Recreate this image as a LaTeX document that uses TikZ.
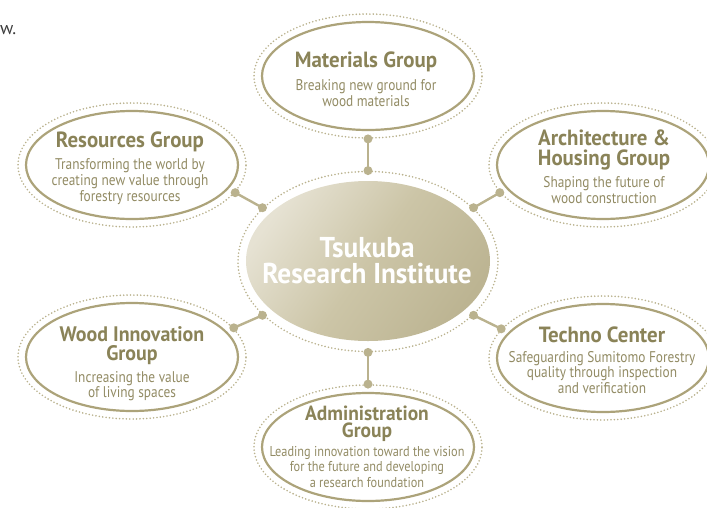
\documentclass[tikz,border=0pt]{standalone}
\usepackage{fontspec}
\setmainfont{PT Sans}
\newfontfamily\cf{PT Sans}[FakeStretch=0.86]
\newfontfamily\tf{PT Sans}[FakeStretch=0.95]
\usetikzlibrary{shapes.geometric}
\definecolor{titlec}{RGB}{138,131,88}
\definecolor{bodyc}{RGB}{146,139,100}
\definecolor{linec}{RGB}{172,163,122}
\definecolor{dotc}{RGB}{186,178,142}
\definecolor{cenlight}{RGB}{230,226,211}
\definecolor{cenmid}{RGB}{204,197,167}
\definecolor{cendark}{RGB}{188,180,146}
\definecolor{wcol}{RGB}{60,60,60}
\tikzset{
  ring/.style={ellipse, draw=dotc, line width=1.8pt, dash pattern=on 0pt off 3.4pt, line cap=round, minimum width=228pt, minimum height=124pt, inner sep=0pt},
  sat/.style={ellipse, draw=linec, line width=2.2pt, minimum width=212pt, minimum height=108pt, inner sep=0pt},
  knob/.style={circle, fill=dotc, minimum size=9pt, inner sep=0pt},
  conn/.style={draw=dotc, line width=2.4pt},
  ttl/.style={font=\tf\bfseries\fontsize{22}{20}\selectfont, text=titlec, align=center, anchor=base, inner sep=0pt},
  bdy/.style={font=\cf\fontsize{15.5}{15.5}\selectfont, text=bodyc, align=center, anchor=base, inner sep=0pt},
}
\begin{document}
\begin{tikzpicture}[x=1pt,y=-1pt]
\useasboundingbox (0,0) rectangle (707,507);
\node[font=\fontsize{18}{18}\selectfont, text=wcol, anchor=base west, inner sep=0pt] (wtxt) at (0,34) {w.};
% central
\node[ring, minimum width=260pt, minimum height=180pt] (cring) at (368,261.5) {};
\node[ellipse, minimum width=244pt, minimum height=160pt, inner sep=0pt, top color=cenlight, bottom color=cendark, middle color=cenmid, shading angle=55] (core) at (368,261) {};
\node[font=\tf\bfseries\fontsize{28.7}{26}\selectfont, text=white, align=center, anchor=base, inner sep=0pt] (coreT) at (367,283) {Tsukuba\\Research Institute};
% satellites
\node[ring] (matR) at (368,76) {};
\node[sat] (mat) at (368,76) {};
\node[ring] (resR) at (132,165) {};
\node[sat] (res) at (132,165) {};
\node[ring] (arcR) at (603,165) {};
\node[sat] (arc) at (603,165) {};
\node[ring] (tecR) at (603,358) {};
\node[sat] (tec) at (603,358) {};
\node[ring] (wooR) at (132,357) {};
\node[sat] (woo) at (132,357) {};
\node[ring] (admR) at (368,447) {};
\node[sat] (adm) at (368,447) {};
% knobs
\node[knob] (k1a) at (matR.south) {};
\node[knob] (k1b) at (cring.north) {};
\node[knob] (k2a) at (resR.-15) {};
\node[knob] (k2b) at (cring.153) {};
\node[knob] (k3a) at (arcR.195) {};
\node[knob] (k3b) at (cring.27) {};
\node[knob] (k4a) at (tecR.164) {};
\node[knob] (k4b) at (cring.-27) {};
\node[knob] (k5a) at (wooR.16) {};
\node[knob] (k5b) at (cring.207) {};
\node[knob] (k6a) at (admR.north) {};
\node[knob] (k6b) at (cring.south) {};
\foreach \i in {1,...,6} {\draw[conn] (k\i a.center) -- (k\i b.center);}
% texts (anchor = baseline of the last line)
\node[ttl] (matT) at (366,67.7) {Materials Group};
\node[bdy, font=\cf\fontsize{15.5}{15.3}\selectfont] (matB) at (366,106) {Breaking new ground for\\wood materials};
\node[ttl] (resT) at (130,147.7) {Resources Group};
\node[bdy, font=\cf\fontsize{15.5}{16}\selectfont] (resB) at (130,201) {Transforming the world by\\creating new value through\\forestry resources};
\node[ttl, font=\tf\bfseries\fontsize{22}{20}\selectfont] (arcT) at (604,165) {Architecture \&\\Housing Group};
\node[bdy, font=\cf\fontsize{15.5}{16}\selectfont] (arcB) at (604,203) {Shaping the future of\\wood construction};
\node[ttl] (tecT) at (602,342.7) {Techno Center};
\node[bdy, font=\cf\fontsize{15.5}{15.3}\selectfont] (tecB) at (602,393) {Safeguarding Sumitomo Forestry\\quality through inspection\\and verification};
\node[ttl, font=\tf\bfseries\fontsize{21}{19}\selectfont] (wooT) at (132,360) {Wood Innovation\\Group};
\node[bdy, font=\cf\fontsize{15.5}{15}\selectfont] (wooB) at (132,397) {Increasing the value\\of living spaces};
\node[ttl, font=\tf\bfseries\fontsize{20.5}{16.7}\selectfont] (admT) at (367,437) {Administration\\Group};
\node[bdy, font=\cf\fontsize{14.3}{15.7}\selectfont] (admB) at (367,487.5) {Leading innovation toward the vision\\for the future and developing\\a research foundation};
\end{tikzpicture}
\end{document}
